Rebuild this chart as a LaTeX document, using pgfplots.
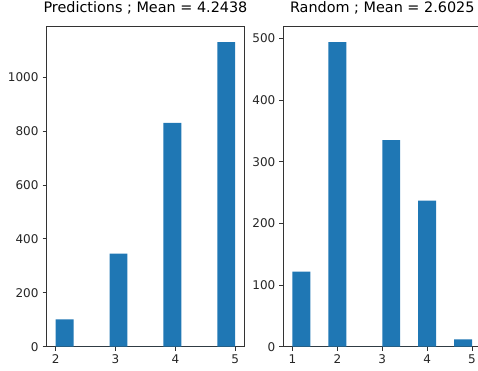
\documentclass[border=0pt]{standalone}
\usepackage{pgfplots}
\pgfplotsset{compat=1.18}
\usepackage{fontspec}
\setmainfont{DejaVu Sans}
\definecolor{mplblue}{HTML}{1F77B4}
\pgfplotsset{
  histax/.style={
    scale only axis,
    width=197.5pt, height=319.7pt,
    anchor=south west,
    ymin=0,
    axis line style={line width=1pt, black!80},
    tick align=outside,
    major tick length=4.2pt,
    every tick/.style={line width=1pt, black!80},
    xtick pos=bottom, ytick pos=left,
    tick label style={font=\fontsize{12}{14}\selectfont, text=black!85},
    /pgf/number format/assume math mode=true,
    /pgf/number format/1000 sep={},
    title style={font=\fontsize{14.4}{16}\selectfont, at={(0.5,1)}, anchor=south, inner sep=0pt, yshift=7pt},
    xticklabel style={yshift=-0.5pt},
    yticklabel style={xshift=-0.5pt},
  }
}
\begin{document}
\begin{tikzpicture}
\begin{axis}[histax, at={(46.7pt,24.3pt)},
  xmin=1.85, xmax=5.15, ymax=1186.5,
  xtick={2,3,4,5}, ytick={0,200,400,600,800,1000},
  title={Predictions ; Mean = 4.2438}]
\addplot[ybar interval, fill=mplblue, draw=none] coordinates {
(2.0,101) (2.3,0) (2.6,0) (2.9,345) (3.2,0) (3.5,0) (3.8,831) (4.1,0) (4.4,0) (4.7,1130) (5.0,0)};
\end{axis}
\begin{axis}[histax, at={(283.5pt,24.3pt)},
  xmin=0.8, xmax=5.2, ymax=518.7,
  xtick={1,2,3,4,5}, ytick={0,100,200,300,400,500},
  title={Random ; Mean = 2.6025}]
\addplot[ybar interval, fill=mplblue, draw=none] coordinates {
(1.0,122) (1.4,0) (1.8,494) (2.2,0) (2.6,0) (3.0,335) (3.4,0) (3.8,237) (4.2,0) (4.6,12) (5.0,0)};
\end{axis}
\pgfresetboundingbox
\path[use as bounding box] (0,0) rectangle (478pt,371pt);
\end{tikzpicture}
\end{document}
